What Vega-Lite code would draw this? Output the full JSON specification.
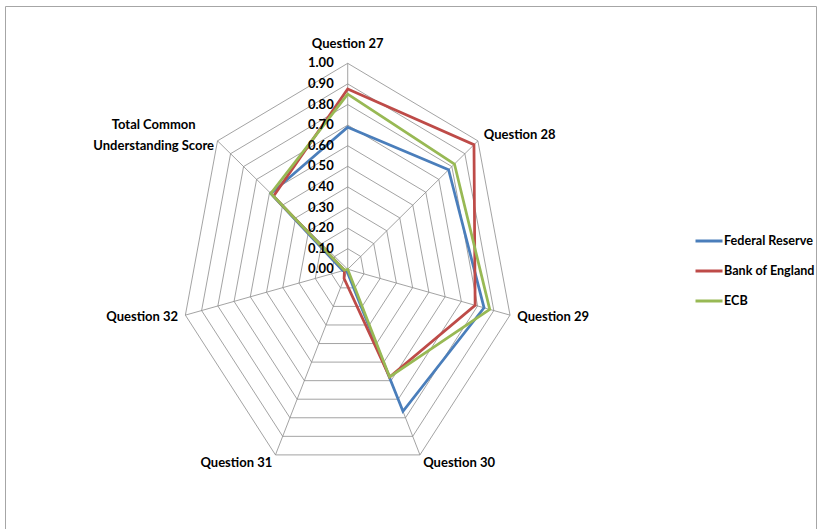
{
  "$schema": "https://vega.github.io/schema/vega-lite/v6.json",
  "width": 811,
  "height": 530,
  "autosize": {"type": "none"},
  "padding": {"left": 5, "top": 6, "right": 1, "bottom": 0},
  "background": "white",
  "config": {
    "view": {"stroke": "#a6a6a6", "strokeWidth": 1},
    "font": "Lato",
    "text": {"font": "Lato", "fontWeight": "bold", "fontSize": 13, "color": "#000000"}
  },
  "datasets": {
    "scores": [
      {"question": "Question 27", "bank": "Federal Reserve", "score": 0.69},
      {"question": "Question 28", "bank": "Federal Reserve", "score": 0.775},
      {"question": "Question 29", "bank": "Federal Reserve", "score": 0.84},
      {"question": "Question 30", "bank": "Federal Reserve", "score": 0.765},
      {"question": "Question 31", "bank": "Federal Reserve", "score": 0.01},
      {"question": "Question 32", "bank": "Federal Reserve", "score": 0.03},
      {"question": "Total Common Understanding Score", "bank": "Federal Reserve", "score": 0.59},
      {"question": "Question 27", "bank": "Bank of England", "score": 0.875},
      {"question": "Question 28", "bank": "Bank of England", "score": 0.97},
      {"question": "Question 29", "bank": "Bank of England", "score": 0.785},
      {"question": "Question 30", "bank": "Bank of England", "score": 0.58},
      {"question": "Question 31", "bank": "Bank of England", "score": 0.05},
      {"question": "Question 32", "bank": "Bank of England", "score": 0.02},
      {"question": "Total Common Understanding Score", "bank": "Bank of England", "score": 0.57},
      {"question": "Question 27", "bank": "ECB", "score": 0.85},
      {"question": "Question 28", "bank": "ECB", "score": 0.82},
      {"question": "Question 29", "bank": "ECB", "score": 0.875},
      {"question": "Question 30", "bank": "ECB", "score": 0.58},
      {"question": "Question 31", "bank": "ECB", "score": 0.0},
      {"question": "Question 32", "bank": "ECB", "score": 0.02},
      {"question": "Total Common Understanding Score", "bank": "ECB", "score": 0.59}
    ],
    "axes": [
      {"question": "Question 27", "k": 0},
      {"question": "Question 28", "k": 1},
      {"question": "Question 29", "k": 2},
      {"question": "Question 30", "k": 3},
      {"question": "Question 31", "k": 4},
      {"question": "Question 32", "k": 5},
      {"question": "Total Common Understanding Score", "k": 6}
    ],
    "levels": [
      {"level": 0.0}, {"level": 0.1}, {"level": 0.2}, {"level": 0.3},
      {"level": 0.4}, {"level": 0.5}, {"level": 0.6}, {"level": 0.7},
      {"level": 0.8}, {"level": 0.9}, {"level": 1.0}
    ]
  },
  "layer": [
    {
      "data": {"name": "levels"},
      "transform": [
        {"filter": "datum.level > 0"},
        {"calculate": "[0, 1, 2, 3, 4, 5, 6]", "as": "k"},
        {"flatten": ["k"]},
        {"calculate": "datum.level * sin(datum.k * 2 * PI / 7)", "as": "px"},
        {"calculate": "datum.level * cos(datum.k * 2 * PI / 7)", "as": "py"}
      ],
      "mark": {"type": "line", "interpolate": "linear-closed", "stroke": "#8c8c8c", "strokeWidth": 0.8},
      "encoding": {
        "x": {"field": "px", "type": "quantitative", "scale": {"domain": [-2.0583, 2.8126], "nice": false, "zero": false}, "axis": null},
        "y": {"field": "py", "type": "quantitative", "scale": {"domain": [-1.2947, 1.2782], "nice": false, "zero": false}, "axis": null},
        "detail": {"field": "level", "type": "nominal"},
        "order": {"field": "k", "type": "quantitative"}
      }
    },
    {
      "data": {"name": "axes"},
      "transform": [
        {"calculate": "sin(datum.k * 2 * PI / 7)", "as": "sx"},
        {"calculate": "cos(datum.k * 2 * PI / 7)", "as": "sy"}
      ],
      "mark": {"type": "rule", "stroke": "#8c8c8c", "strokeWidth": 0.8},
      "encoding": {
        "x": {"field": "sx", "type": "quantitative", "scale": {"domain": [-2.0583, 2.8126], "nice": false, "zero": false}, "axis": null},
        "y": {"field": "sy", "type": "quantitative", "scale": {"domain": [-1.2947, 1.2782], "nice": false, "zero": false}, "axis": null},
        "x2": {"datum": 0},
        "y2": {"datum": 0}
      }
    },
    {
      "data": {"name": "scores"},
      "transform": [
        {"lookup": "question", "from": {"data": {"name": "axes"}, "key": "question", "fields": ["k"]}},
        {"calculate": "datum.score * sin(datum.k * 2 * PI / 7)", "as": "px"},
        {"calculate": "datum.score * cos(datum.k * 2 * PI / 7)", "as": "py"}
      ],
      "mark": {"type": "line", "interpolate": "linear-closed", "strokeWidth": 2.75},
      "encoding": {
        "x": {"field": "px", "type": "quantitative", "scale": {"domain": [-2.0583, 2.8126], "nice": false, "zero": false}, "axis": null},
        "y": {"field": "py", "type": "quantitative", "scale": {"domain": [-1.2947, 1.2782], "nice": false, "zero": false}, "axis": null},
        "order": {"field": "k", "type": "quantitative"},
        "color": {
          "field": "bank",
          "type": "nominal",
          "scale": {"domain": ["Federal Reserve", "Bank of England", "ECB"], "range": ["#4A7EBB", "#BE4B48", "#98B954"]},
          "legend": {
            "title": null,
            "orient": "none",
            "legendX": 689,
            "legendY": 220,
            "padding": 0,
            "symbolType": "stroke",
            "symbolSize": 729,
            "symbolStrokeWidth": 3,
            "rowPadding": 8,
            "labelOffset": 0,
            "labelLimit": 200,
            "labelFont": "Lato",
            "labelFontSize": 12.6,
            "labelFontWeight": "bold",
            "labelColor": "#000000"
          }
        }
      }
    },
    {
      "data": {"name": "levels"},
      "mark": {"type": "text", "align": "right", "baseline": "middle", "dx": -14, "fontSize": 13},
      "encoding": {
        "x": {"datum": 0, "type": "quantitative", "scale": {"domain": [-2.0583, 2.8126], "nice": false, "zero": false}, "axis": null},
        "y": {"field": "level", "type": "quantitative", "scale": {"domain": [-1.2947, 1.2782], "nice": false, "zero": false}, "axis": null},
        "text": {"field": "level", "type": "quantitative", "format": ".2f"}
      }
    },
    {
      "data": {"name": "axes"},
      "transform": [
        {"calculate": "datum.k == 0 ? 1.094 : 1.045", "as": "rl"},
        {"calculate": "datum.rl * sin(datum.k * 2 * PI / 7)", "as": "lx"},
        {"calculate": "datum.rl * cos(datum.k * 2 * PI / 7)", "as": "ly"},
        {"calculate": "replace(datum.question, 'Common ', 'Common\\n')", "as": "label"},
        {"calculate": "datum.k == 0 || datum.k == 6 ? 'center' : (datum.k <= 3 ? 'left' : 'right')", "as": "side"}
      ],
      "layer": [
        {
          "transform": [{"filter": "datum.side == 'center' && datum.k == 0"}],
          "mark": {"type": "text", "align": "center", "baseline": "middle", "fontSize": 13},
          "encoding": {
            "x": {"field": "lx", "type": "quantitative", "scale": {"domain": [-2.0583, 2.8126], "nice": false, "zero": false}, "axis": null},
            "y": {"field": "ly", "type": "quantitative", "scale": {"domain": [-1.2947, 1.2782], "nice": false, "zero": false}, "axis": null},
            "text": {"field": "label", "type": "nominal"}
          }
        },
        {
          "transform": [{"filter": "datum.side == 'left'"}],
          "mark": {"type": "text", "align": "left", "baseline": "middle", "fontSize": 13},
          "encoding": {
            "x": {"field": "lx", "type": "quantitative", "scale": {"domain": [-2.0583, 2.8126], "nice": false, "zero": false}, "axis": null},
            "y": {"field": "ly", "type": "quantitative", "scale": {"domain": [-1.2947, 1.2782], "nice": false, "zero": false}, "axis": null},
            "text": {"field": "label", "type": "nominal"}
          }
        },
        {
          "transform": [{"filter": "datum.side == 'right'"}],
          "mark": {"type": "text", "align": "right", "baseline": "middle", "fontSize": 13},
          "encoding": {
            "x": {"field": "lx", "type": "quantitative", "scale": {"domain": [-2.0583, 2.8126], "nice": false, "zero": false}, "axis": null},
            "y": {"field": "ly", "type": "quantitative", "scale": {"domain": [-1.2947, 1.2782], "nice": false, "zero": false}, "axis": null},
            "text": {"field": "label", "type": "nominal"}
          }
        },
        {
          "transform": [{"filter": "datum.k == 6"}],
          "mark": {"type": "text", "align": "center", "baseline": "middle", "fontSize": 13, "lineBreak": "\n", "lineHeight": 21, "dx": -58, "dy": -10},
          "encoding": {
            "x": {"field": "lx", "type": "quantitative", "scale": {"domain": [-2.0583, 2.8126], "nice": false, "zero": false}, "axis": null},
            "y": {"field": "ly", "type": "quantitative", "scale": {"domain": [-1.2947, 1.2782], "nice": false, "zero": false}, "axis": null},
            "text": {"field": "label", "type": "nominal"}
          }
        }
      ]
    }
  ]
}
